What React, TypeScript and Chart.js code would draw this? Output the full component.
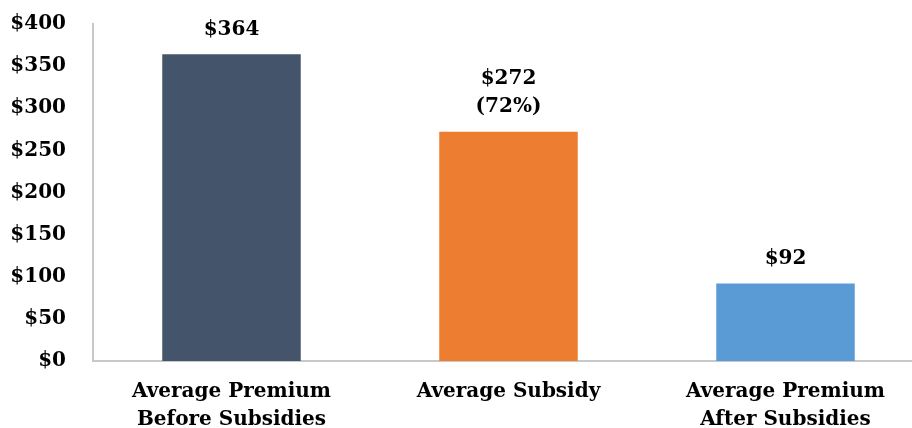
import React, { useEffect, useRef } from "react";
import { Chart, registerables } from "chart.js";

Chart.register(...registerables);

const categories: string[][] = [
  ["Average Premium", "Before Subsidies"],
  ["Average Subsidy"],
  ["Average Premium", "After Subsidies"],
];
const values: number[] = [364, 272, 92];
const valueLabels: string[][] = [["$364"], ["$272", "(72%)"], ["$92"]];
const colors: string[] = ["#44546A", "#ED7D31", "#5B9BD5"];
const yTicks: number[] = [0, 50, 100, 150, 200, 250, 300, 350, 400];

const FONT = "'DejaVu Serif', serif";

const labelPlugin = {
  id: "valueLabels",
  afterDatasetsDraw(chart: any) {
    const ctx = chart.ctx;
    const meta = chart.getDatasetMeta(0);
    ctx.save();
    ctx.font = `bold 20px ${FONT}`;
    ctx.fillStyle = "#000";
    ctx.textAlign = "center";
    ctx.textBaseline = "middle";
    meta.data.forEach((bar: any, i: number) => {
      const lines = valueLabels[i];
      const n = lines.length;
      lines.forEach((t, j) => {
        const y = bar.y - 25 - (n - 1 - j) * 28;
        ctx.fillText(t, bar.x, y);
      });
    });
    ctx.restore();
  },
};

export default function App() {
  const ref = useRef<HTMLCanvasElement>(null);
  useEffect(() => {
    if (!ref.current) return;
    const chart = new Chart(ref.current, {
      type: "bar",
      data: {
        labels: categories as any,
        datasets: [
          {
            data: values,
            backgroundColor: colors,
            barPercentage: 1,
            categoryPercentage: 0.5,
          },
        ],
      },
      options: {
        responsive: false,
        animation: false,
        devicePixelRatio: 1,
        layout: { padding: { top: 24, right: 6, left: 0, bottom: 0 } },
        plugins: { legend: { display: false }, tooltip: { enabled: false } },
        scales: {
          x: {
            grid: { display: false, drawTicks: false },
            border: { display: true, color: "#c8c8c8", width: 2 },
            ticks: {
              color: "#000",
              font: { family: FONT, weight: "bold", size: 20, lineHeight: 1.4 },
              padding: 17,
              maxRotation: 0,
              autoSkip: false,
            },
            afterFit(scale: any) {
              scale.height = 67;
            },
          },
          y: {
            min: 0,
            max: 400,
            afterBuildTicks(scale: any) {
              scale.ticks = yTicks.map((v) => ({ value: v }));
            },
            grid: { display: false, drawTicks: false },
            border: { display: true, color: "#c8c8c8", width: 2 },
            ticks: {
              color: "#000",
              font: { family: FONT, weight: "bold", size: 20 },
              padding: 27,
              callback: (v: any) => `$${v}`,
            },
            afterFit(scale: any) {
              scale.width = 93;
              scale.paddingTop = 0;
              scale.paddingBottom = 0;
            },
          },
        },
      },
      plugins: [labelPlugin],
    });
    return () => chart.destroy();
  }, []);
  return (
    <div
      style={{
        position: "fixed",
        left: 0,
        top: 0,
        width: 912,
        height: 428,
        overflow: "hidden",
        background: "#fff",
      }}
    >
      <canvas ref={ref} width={930} height={428} style={{ display: "block" }} />
    </div>
  );
}
